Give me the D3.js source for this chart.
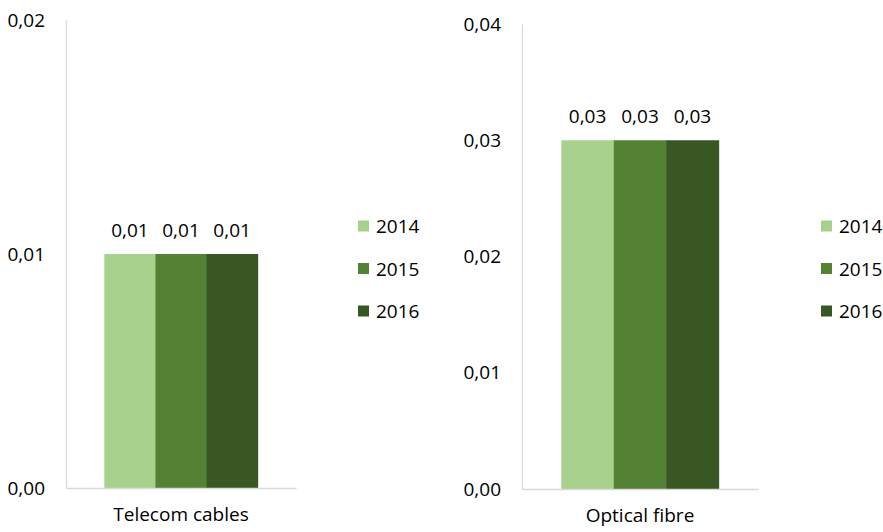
<!DOCTYPE html>
<html>
<head>
<meta charset="utf-8">
<script src="https://cdn.jsdelivr.net/npm/d3@7/dist/d3.min.js"></script>
<style>
  html, body { margin: 0; padding: 0; background: #fff; }
  svg { display: block; }
  text { font-family: "Open Sans", "Liberation Sans", sans-serif; fill: #000; }
</style>
</head>
<body>
<svg id="chart" width="883" height="532"></svg>
<script>
// Values per year for each product
const years = ["2014", "2015", "2016"];
const telecomCategory = ["Telecom cables"];
const telecomValues = [0.01, 0.01, 0.01];
const telecomTicks = [0, 0.01, 0.02];
const fibreCategory = ["Optical fibre"];
const fibreValues = [0.03, 0.03, 0.03];
const fibreTicks = [0, 0.01, 0.02, 0.03, 0.04];
const yearColors = ["#A9D18E", "#548235", "#385723"];

const svg = d3.select("#chart");
const fmt = v => d3.format(".2f")(v).replace(".", ",");
const color = d3.scaleOrdinal().domain(years).range(yearColors);
const fontSize = 19;

function panel(cfg) {
  const g = svg.append("g");
  const y = d3.scaleLinear().domain(cfg.domain).range([cfg.bottom, cfg.top]);
  const x = d3.scaleBand().domain(cfg.category).range([cfg.left, cfg.right]).padding(0.2);
  const xi = d3.scaleBand().domain(years).range([0, x.bandwidth()]).padding(0);

  // y axis: light vertical line with comma-decimal labels
  const yAxis = g.append("g")
    .attr("transform", `translate(${cfg.left},0)`)
    .call(d3.axisLeft(y).tickValues(cfg.ticks).tickFormat(fmt).tickSize(0).tickSizeOuter(0).tickPadding(21));
  yAxis.select(".domain").attr("stroke", "#D9D9D9").attr("stroke-width", 1.3);
  yAxis.selectAll("text").style("font-size", fontSize + "px").attr("fill", "#000");

  // bars
  const data = years.map((yr, i) => ({ year: yr, value: cfg.values[i] }));
  const bars = g.append("g").attr("transform", `translate(${x(cfg.category[0])},0)`);
  bars.selectAll("rect").data(data).join("rect")
    .attr("x", d => xi(d.year))
    .attr("width", xi.bandwidth() + 0.5)
    .attr("y", d => y(d.value))
    .attr("height", d => y(0) - y(d.value))
    .attr("fill", d => color(d.year));

  // value labels
  bars.selectAll("text.val").data(data).join("text")
    .attr("class", "val")
    .attr("x", d => xi(d.year) + xi.bandwidth() / 2)
    .attr("y", d => y(d.value) - 24)
    .attr("text-anchor", "middle")
    .attr("dominant-baseline", "central")
    .style("font-size", fontSize + "px")
    .text(d => fmt(d.value));

  // x axis: baseline and category label
  const xAxis = g.append("g")
    .attr("transform", `translate(0,${cfg.bottom})`)
    .call(d3.axisBottom(x).tickSize(0).tickSizeOuter(0).tickPadding(20));
  xAxis.select(".domain").attr("stroke", "#D9D9D9").attr("stroke-width", 1.3);
  xAxis.selectAll("text").style("font-size", fontSize + "px").attr("fill", "#000");

  // legend
  const leg = g.append("g").attr("transform", `translate(${cfg.legendX},0)`);
  const rowY = d3.scalePoint().domain(years).range([226, 311]);
  const items = leg.selectAll("g").data(years).join("g")
    .attr("transform", d => `translate(0,${rowY(d)})`);
  items.append("rect").attr("x", 0).attr("y", -5.5).attr("width", 11).attr("height", 11)
    .attr("fill", d => color(d));
  items.append("text").attr("x", 18).attr("y", 0)
    .attr("dominant-baseline", "central")
    .style("font-size", fontSize + "px")
    .text(d => d);
}

panel({
  category: telecomCategory, values: telecomValues, ticks: telecomTicks,
  domain: [0, 0.02], left: 66, right: 296, top: 20, bottom: 488, legendX: 358
});
panel({
  category: fibreCategory, values: fibreValues, ticks: fibreTicks,
  domain: [0, 0.04], left: 522, right: 758, top: 24, bottom: 489, legendX: 821
});
</script>
</body>
</html>
